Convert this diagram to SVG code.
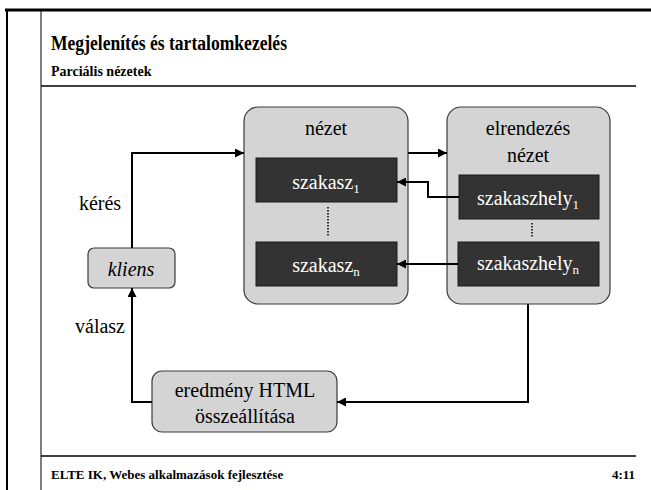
<svg xmlns="http://www.w3.org/2000/svg" width="651" height="490" viewBox="0 0 651 490" font-family="'Liberation Serif', 'Times New Roman', serif">
<defs>
<style>
text{font-family:"Liberation Serif","Times New Roman",serif;}
.lbl{font-size:20px;fill:#000;text-anchor:middle;}
.wt{font-size:20px;fill:#fff;text-anchor:middle;}
.sub{font-size:13px;}
.box{fill:#d4d4d4;stroke:#3a3a3a;stroke-width:1.2;}
.dark{fill:#333333;stroke:#1a1a1a;stroke-width:1;}
.conn{fill:none;stroke:#000;stroke-width:2;}
.dot{fill:none;stroke:#000;stroke-width:1.5;stroke-dasharray:1.5 1.5;}
.frame{stroke:#000;fill:none;}
.hd{font-weight:bold;fill:#000;}
</style>
<marker id="ah" viewBox="0 0 10 10" refX="10" refY="5" markerWidth="4.5" markerHeight="4.5" orient="auto" markerUnits="strokeWidth">
<path d="M0,0 L10,5 L0,10 z" fill="#000"/>
</marker>
</defs>
<rect width="651" height="490" fill="#fff"/>
<g id="frame">
<line class="frame" x1="5" y1="10" x2="651" y2="10" stroke-width="3"/>
<line class="frame" x1="7" y1="9" x2="7" y2="490" stroke-width="2"/>
<line class="frame" x1="41" y1="10" x2="41" y2="490" stroke-width="1"/>
<line class="frame" x1="41" y1="86" x2="636" y2="86" stroke-width="1.5"/>
<line class="frame" x1="41" y1="456" x2="636" y2="456" stroke-width="1.5"/>
<text class="hd" x="51" y="50" font-size="20" textLength="236" lengthAdjust="spacingAndGlyphs">Megjelenítés és tartalomkezelés</text>
<text class="hd" x="51" y="76" font-size="14">Parciális nézetek</text>
<text class="hd" x="51" y="479" font-size="13">ELTE IK, Webes alkalmazások fejlesztése</text>
<text class="hd" x="635" y="479" font-size="13" text-anchor="end">4:11</text>
</g>
<g id="kliens">
<rect class="box" x="88" y="248" width="87" height="40" rx="6"/>
<text class="lbl" x="131" y="276" font-style="italic">kliens</text>
</g>
<g id="nezet">
<rect class="box" x="244" y="107" width="164" height="197" rx="14"/>
<text class="lbl" x="326" y="135">nézet</text>
</g>
<g id="szakasz1">
<rect class="dark" x="256" y="158" width="141" height="44"/>
<text class="wt" x="326" y="189">szakasz<tspan class="sub" dy="4">1</tspan></text>
</g>
<g id="szakaszn">
<rect class="dark" x="256" y="242" width="141" height="44"/>
<text class="wt" x="326" y="272">szakasz<tspan class="sub" dy="4">n</tspan></text>
</g>
<g id="elrendezes">
<rect class="box" x="447" y="107" width="163" height="197" rx="14"/>
<text class="lbl" x="528" y="135">elrendezés</text>
<text class="lbl" x="528" y="162">nézet</text>
</g>
<g id="szakaszhely1">
<rect class="dark" x="459" y="175" width="140" height="44"/>
<text class="wt" x="528" y="205">szakaszhely<tspan class="sub" dy="4">1</tspan></text>
</g>
<g id="szakaszhelyn">
<rect class="dark" x="458" y="242" width="141" height="44"/>
<text class="wt" x="528" y="270">szakaszhely<tspan class="sub" dy="4">n</tspan></text>
</g>
<g id="eredmeny">
<rect class="box" x="152" y="371" width="185" height="61" rx="10"/>
<text class="lbl" x="245" y="397">eredmény HTML</text>
<text class="lbl" x="245" y="423">összeállítása</text>
</g>
<g id="connectors">
<line class="dot" x1="328" y1="207" x2="328" y2="237"/>
<line class="dot" x1="532" y1="223" x2="532" y2="238"/>
<polyline class="conn" points="132,248 132,153 244,153" marker-end="url(#ah)"/>
<line class="conn" x1="408" y1="153" x2="447" y2="153" marker-end="url(#ah)"/>
<polyline class="conn" points="459,197 428,197 428,182 397,182" marker-end="url(#ah)"/>
<line class="conn" x1="458" y1="264" x2="397" y2="264" marker-end="url(#ah)"/>
<polyline class="conn" points="528,304 528,402 337,402" marker-end="url(#ah)"/>
<polyline class="conn" points="152,402 132,402 132,288" marker-end="url(#ah)"/>
<text class="lbl" x="100" y="210">kérés</text>
<text class="lbl" x="100" y="333">válasz</text>
</g>
</svg>
